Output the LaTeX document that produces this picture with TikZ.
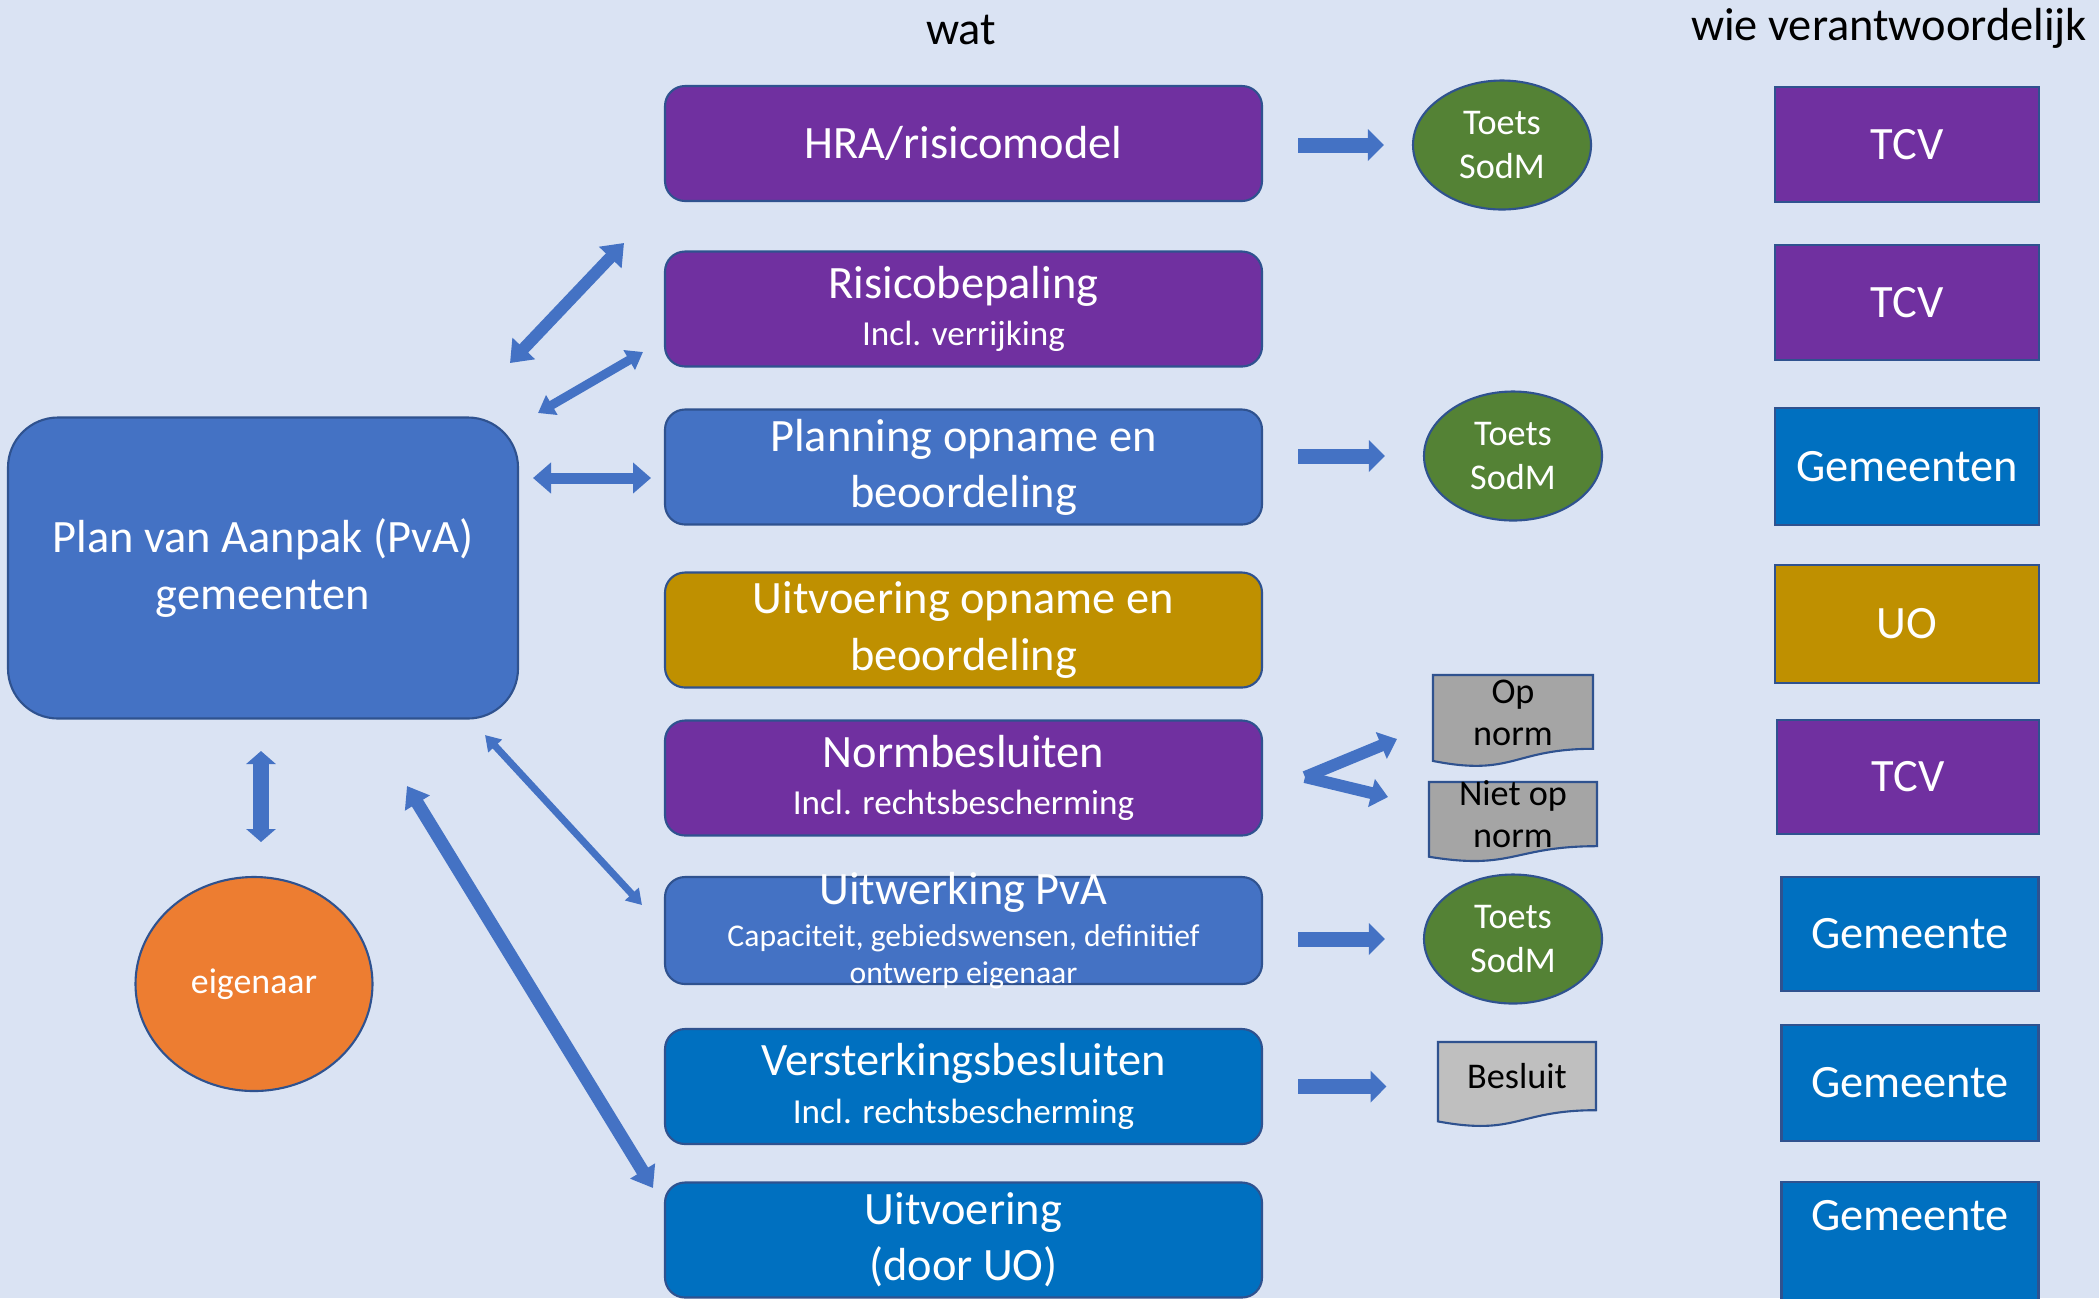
\documentclass[tikz,border=0pt]{standalone}
\usepackage{fontspec}
\setmainfont{Carlito}
\usetikzlibrary{arrows.meta,shapes.geometric}

\definecolor{achtergrond}{RGB}{218,227,243}
\definecolor{tcvpaars}{RGB}{112,48,160}
\definecolor{pvablauw}{RGB}{68,114,196}
\definecolor{gemblauw}{RGB}{0,112,192}
\definecolor{uogoud}{RGB}{191,144,0}
\definecolor{sodmgroen}{RGB}{84,130,53}
\definecolor{eigenoranje}{RGB}{237,125,49}
\definecolor{randblauw}{RGB}{47,82,143}
\definecolor{docgrijs}{RGB}{165,165,165}
\definecolor{docgrijslicht}{RGB}{191,191,191}

\newcommand{\groot}{\fontsize{13.2}{16}\selectfont}
\newcommand{\klein}{\fontsize{10}{12}\selectfont}
\newcommand{\kleiner}{\fontsize{9}{10.8}\selectfont}
\newcommand{\middel}{\fontsize{10.3}{12.5}\selectfont}

% document-vorm: x y breedte hoogte kleur
\newcommand{\docvorm}[5]{%
	\draw[doc, fill=#5] (#1,#2) -- ({#1+#3},#2) -- ({#1+#3},{#2+0.802*#4})
		.. controls ({#1+0.5*#3},{#2+0.802*#4}) and ({#1+0.5*#3},{#2+1.1075*#4}) .. (#1,{#2+0.934*#4}) -- cycle;}

\tikzset{
	kop/.style={font=\groot, inner sep=0pt},
	wat/.style={draw=randblauw, line width=0.6pt, rounded corners=0.2cm, minimum width=5.97cm, minimum height=1.15cm, text=white, align=center, font=\groot, inner sep=0pt},
	wie/.style={draw=randblauw, line width=0.6pt, minimum width=2.64cm, minimum height=1.15cm, text=white, font=\groot, inner sep=0pt},
	toets/.style={ellipse, draw=randblauw, line width=0.6pt, fill=sodmgroen, minimum width=1.78cm, minimum height=1.29cm, text=white, align=center, font=\middel, inner sep=0pt},
	doc/.style={draw=randblauw, line width=0.6pt},
	doctekst/.style={align=center, font=\fontsize{10.3}{12}\selectfont, inner sep=0pt},
	pijl/.style n args={3}{draw=pvablauw, line width=#1, -{Triangle[length=#3,width=#2]}},
	dubbelpijl/.style n args={3}{draw=pvablauw, line width=#1, {Triangle[length=#3,width=#2]}-{Triangle[length=#3,width=#2]}},
}

\begin{document}
\begin{tikzpicture}[x=1cm,y=-1cm]
	\fill[achtergrond] (0,0) rectangle (20.99,12.98);
	\useasboundingbox (0,0) rectangle (20.99,12.98);

%kopjes
	\node[kop] (kopwat) at (9.61,0.30) {wat};
	\node[kop] (kopwie) at (18.89,0.28) {wie verantwoordelijk};

%wat
	\node[wat, fill=tcvpaars] (hra) at (9.635,1.435) {HRA/risicomodel};
	\node[wat, fill=tcvpaars] (risico) at (9.635,3.09) {Risicobepaling\\[-2.5pt]\klein Incl. verrijking};
	\node[wat, fill=pvablauw] (planning) at (9.635,4.67) {Planning opname en\\beoordeling};
	\node[wat, fill=uogoud] (uitvopname) at (9.635,6.30) {Uitvoering opname en\\beoordeling};
	\node[wat, fill=tcvpaars] (normbesl) at (9.635,7.78) {Normbesluiten\\[-2.5pt]\klein Incl. rechtsbescherming};
	\node[wat, fill=pvablauw, minimum height=1.07cm,
		label={[text=white, align=center, font=\groot, inner sep=0pt]center:Uitwerking PvA\\[-4.2pt]\kleiner Capaciteit, gebiedswensen, definitief\\[-5.5pt]\kleiner ontwerp eigenaar}] (uitwerking) at (9.635,9.305) {};
	\node[wat, fill=gemblauw] (versterking) at (9.635,10.865) {Versterkingsbesluiten\\[-2.5pt]\klein Incl. rechtsbescherming};
	\node[wat, fill=gemblauw] (uitvoering) at (9.635,12.40) {Uitvoering\\(door UO)};

%wie verantwoordelijk
	\node[wie, fill=tcvpaars] (wie1) at (19.07,1.445) {TCV};
	\node[wie, fill=tcvpaars] (wie2) at (19.07,3.025) {TCV};
	\node[wie, fill=gemblauw, minimum height=1.17cm] (wie3) at (19.07,4.665) {Gemeenten};
	\node[wie, fill=uogoud, minimum height=1.18cm] (wie4) at (19.07,6.24) {UO};
	\node[wie, fill=tcvpaars, minimum width=2.62cm, minimum height=1.14cm] (wie5) at (19.08,7.77) {TCV};
	\node[wie, fill=gemblauw, minimum width=2.57cm, minimum height=1.14cm] (wie6) at (19.10,9.34) {Gemeente};
	\node[wie, fill=gemblauw, minimum width=2.57cm, minimum height=1.16cm] (wie7) at (19.10,10.83) {Gemeente};
	\node[wie, fill=gemblauw, minimum width=2.57cm, anchor=north, text height=0.48cm, text depth=0.9cm] (wie8) at (19.10,11.81) {Gemeente};

%PvA + eigenaar
	\node[draw=randblauw, line width=0.6pt, fill=pvablauw, rounded corners=0.5cm, minimum width=5.10cm, minimum height=3.01cm, text=white, align=center, font=\groot, inner sep=0pt] (pva) at (2.63,5.68) {Plan van Aanpak (PvA)\\gemeenten};
	\node[ellipse, draw=randblauw, line width=0.6pt, fill=eigenoranje, minimum width=2.37cm, minimum height=2.14cm, text=white, font=\fontsize{10.2}{12}\selectfont, inner sep=0pt] (eigenaar) at (2.54,9.84) {eigenaar};

%toetsen
	\node[toets] (toets1) at (15.02,1.45) {Toets\\SodM};
	\node[toets] (toets2) at (15.13,4.56) {Toets\\SodM};
	\node[toets] (toets3) at (15.13,9.39) {Toets\\SodM};

%documenten
	\docvorm{14.33}{6.75}{1.60}{0.92}{docgrijs}
	\node[doctekst] (opnorm) at (15.13,7.13) {Op\\norm};
	\docvorm{14.29}{7.82}{1.68}{0.80}{docgrijs}
	\node[doctekst] (nietopnorm) at (15.13,8.14) {Niet op\\norm};
	\docvorm{14.38}{10.42}{1.58}{0.85}{docgrijslicht}
	\node[doctekst] (besluit) at (15.17,10.76) {Besluit};

%pijlen rechts
	\draw[pijl={0.15cm}{0.31cm}{0.16cm}, shorten <=0.35cm, shorten >=0.28cm] (hra.east |- toets1.west) -- (toets1.west);
	\draw[pijl={0.15cm}{0.31cm}{0.16cm}, shorten <=0.35cm, shorten >=0.38cm] (planning.east |- toets2.west) -- (toets2.west);
	\draw[pijl={0.15cm}{0.31cm}{0.16cm}, shorten <=0.35cm, shorten >=0.38cm] (uitwerking.east |- toets3.west) -- (toets3.west);
	\draw[pijl={0.15cm}{0.31cm}{0.16cm}, shorten <=0.35cm, shorten >=0.80cm] (versterking.east) -- (versterking.east -| besluit.west);

	%V naar op norm / niet op norm
	\coordinate (vpunt) at (13.05,7.77);
	\coordinate (vboven) at (13.97,7.39);
	\coordinate (vonder) at (13.88,7.97);
	\draw[pijl={0.12cm}{0.28cm}{0.17cm}] (vpunt) -- (vboven);
	\draw[pijl={0.12cm}{0.28cm}{0.17cm}] (vpunt) -- (vonder);

%pijlen links
	\coordinate (pA1) at (5.10,3.63);  \coordinate (pA2) at (6.24,2.43);
	\coordinate (pB1) at (5.38,4.13);  \coordinate (pB2) at (6.43,3.52);
	\coordinate (pC1) at (5.33,4.78);  \coordinate (pC2) at (6.51,4.78);
	\coordinate (pD1) at (4.85,7.35);  \coordinate (pD2) at (6.42,9.05);
	\coordinate (pE1) at (4.07,7.86);  \coordinate (pE2) at (6.53,11.88);
	\coordinate (pF1) at (2.61,7.51);  \coordinate (pF2) at (2.61,8.42);

	\foreach \van/\naar/\dik/\punt/\len in {pA1/pA2/0.12/0.30/0.20, pB1/pB2/0.09/0.22/0.16, pC1/pC2/0.11/0.30/0.18, pD1/pD2/0.07/0.18/0.15, pE1/pE2/0.13/0.28/0.20, pF1/pF2/0.16/0.29/0.13}
		\draw[dubbelpijl={\dik cm}{\punt cm}{\len cm}] (\van) -- (\naar);

\end{tikzpicture}
\end{document}
